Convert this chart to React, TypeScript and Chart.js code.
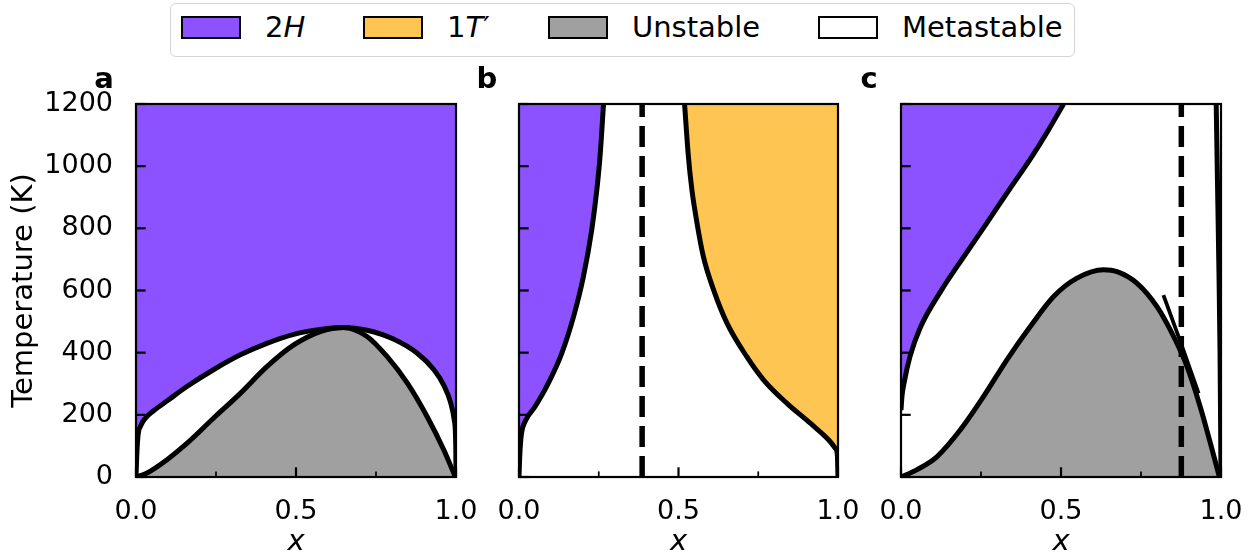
import React, { useEffect, useRef } from 'react';
import { Chart, registerables } from 'chart.js';

Chart.register(...registerables);

const FONT = 'DejaVu Sans';
const PURPLE = '#8c52ff';
const YELLOW = '#fec552';
const GREY = '#a0a0a0';

// ---------- data ----------
const yMin = 0;
const yMax = 1200;
const yTicks = [0, 200, 400, 600, 800, 1000, 1200];
const yTickLabels = ['0', '200', '400', '600', '800', '1000', '1200'];
const xMajorTicks = [0, 0.5, 1];
const xMinorTicks = [0.25, 0.75];
const xTickLabels = ['0.0', '0.5', '1.0'];

// panel a
const aBinodalX = [0, 0.002, 0.006, 0.015, 0.03, 0.055, 0.1, 0.159, 0.242, 0.326, 0.409, 0.493, 0.576, 0.649, 0.722, 0.806, 0.879, 0.931, 0.962, 0.983, 0.995, 0.9993, 1.0];
const aBinodalT = [0, 60, 130, 165, 190, 213, 247, 291, 345, 393, 430, 459, 475, 481, 472, 443, 398, 345, 295, 240, 180, 100, 0];
const aSpinodalX = [0, 0.033, 0.096, 0.159, 0.242, 0.326, 0.409, 0.493, 0.576, 0.649, 0.722, 0.785, 0.848, 0.91, 0.962, 0.998];
const aSpinodalT = [0, 12, 55, 108, 189, 269, 355, 425, 468, 481, 452, 387, 302, 194, 87, 0];

// panel b
const bLeftX = [0, 0.002, 0.004, 0.008, 0.022, 0.05, 0.092, 0.134, 0.171, 0.202, 0.228, 0.244, 0.254, 0.265];
const bLeftT = [0, 60, 98, 141, 184, 226, 302, 398, 516, 645, 795, 924, 1031, 1200];
const bRightX = [0.519, 0.531, 0.542, 0.558, 0.578, 0.61, 0.652, 0.714, 0.767, 0.84, 0.913, 0.971, 0.992, 0.998, 1.0];
const bRightT = [1200, 1031, 924, 817, 709, 602, 495, 387, 312, 237, 173, 119, 92, 70, 0];
const bDashX = 0.386;

// panel c
const cUpperX = [0, 0.003, 0.01, 0.028, 0.06, 0.127, 0.197, 0.268, 0.338, 0.409, 0.46, 0.508];
const cUpperT = [215, 260, 305, 387, 480, 602, 710, 817, 924, 1031, 1115, 1200];
const cSpinodalX = [0, 0.049, 0.112, 0.185, 0.258, 0.331, 0.404, 0.477, 0.55, 0.633, 0.675, 0.737, 0.8, 0.852, 0.894, 0.935, 0.967, 0.995];
const cSpinodalT = [0, 23, 65, 151, 259, 377, 484, 581, 640, 667, 661, 624, 548, 452, 355, 226, 108, 0];
const cRightX = [0.985, 0.989, 0.993, 0.997, 1.0];
const cRightT = [1200, 950, 700, 400, 0];
const cSegmentX = [0.82, 0.875, 0.93];
const cSegmentT = [585, 430, 269];
const cDashX = 0.876;

const legendLabels = ['2H', '1T′', 'Unstable', 'Metastable'];
const legendColors = [PURPLE, YELLOW, GREY, '#ffffff'];

// ---------- helpers ----------
const pts = (xs: number[], ys: number[]) => xs.map((x, i) => ({ x, y: ys[i] }));
const vline = (x: number) => [{ x, y: yMin }, { x, y: yMax }];

const curve = (data: any[], extra: any = {}) => ({
  data,
  showLine: true,
  pointRadius: 0,
  borderColor: '#000',
  borderWidth: 5,
  fill: false,
  cubicInterpolationMode: 'monotone',
  clip: 0,
  ...extra,
});

const dashed = (x: number) => ({
  data: vline(x),
  showLine: true,
  pointRadius: 0,
  borderColor: '#000',
  borderWidth: 5.5,
  borderDash: [21, 9],
  borderCapStyle: 'butt',
  fill: false,
  tension: 0,
  clip: 0,
});

const H = 554;
const PLOT_TOP = 104;
const PLOT_BOTTOM = 477;

const panels = [
  {
    letter: 'a',
    canvasLeft: 0,
    canvasWidth: 478,
    plotLeft: 136,
    plotRight: 456,
    showY: true,
    datasets: [
      curve(pts(aBinodalX, aBinodalT), { fill: 'end', backgroundColor: PURPLE }),
      curve(pts(aSpinodalX, aSpinodalT), { fill: 'origin', backgroundColor: GREY }),
    ],
  },
  {
    letter: 'b',
    canvasLeft: 478,
    canvasWidth: 382,
    plotLeft: 519,
    plotRight: 838,
    showY: false,
    datasets: [
      curve(pts(bLeftX, bLeftT), { fill: 'end', backgroundColor: PURPLE }),
      curve(pts(bRightX, bRightT), { fill: 'end', backgroundColor: YELLOW }),
      dashed(bDashX),
    ],
  },
  {
    letter: 'c',
    canvasLeft: 860,
    canvasWidth: 397,
    plotLeft: 901,
    plotRight: 1221,
    showY: false,
    datasets: [
      curve(pts(cUpperX, cUpperT), { fill: 'end', backgroundColor: PURPLE }),
      curve(pts(cSpinodalX, cSpinodalT), { fill: 'origin', backgroundColor: GREY }),
      curve(pts(cRightX, cRightT)),
      curve(pts(cSegmentX, cSegmentT), { borderWidth: 3.8 }),
      dashed(cDashX),
    ],
  },
];

const decorPlugin = (letter: string) => ({
  id: 'decor' + letter,
  afterDatasetsDraw(chart: any) {
    const { ctx, chartArea } = chart;
    const { left, right, top, bottom } = chartArea;
    const xs = chart.scales.x;
    const ys = chart.scales.y;
    ctx.save();
    ctx.strokeStyle = '#000';
    ctx.lineCap = 'butt';
    ctx.lineWidth = 2.2;
    xMajorTicks.forEach((v) => {
      const px = xs.getPixelForValue(v);
      ctx.beginPath();
      ctx.moveTo(px, bottom);
      ctx.lineTo(px, bottom - 9.7);
      ctx.stroke();
    });
    ctx.lineWidth = 1.7;
    xMinorTicks.forEach((v) => {
      const px = xs.getPixelForValue(v);
      ctx.beginPath();
      ctx.moveTo(px, bottom);
      ctx.lineTo(px, bottom - 5.6);
      ctx.stroke();
    });
    ctx.lineWidth = 2.2;
    yTicks.forEach((v) => {
      const py = ys.getPixelForValue(v);
      ctx.beginPath();
      ctx.moveTo(left, py);
      ctx.lineTo(left + 9.7, py);
      ctx.stroke();
    });
    ctx.lineWidth = 2.2;
    ctx.strokeRect(left, top, right - left, bottom - top);
    ctx.fillStyle = '#000';
    ctx.font = `bold 29px "${FONT}"`;
    ctx.textAlign = 'center';
    ctx.textBaseline = 'alphabetic';
    ctx.fillText(letter, left - 32, 88);
    ctx.restore();
  },
});

function Panel({ cfg }: { cfg: any }) {
  const ref = useRef<HTMLCanvasElement>(null);
  useEffect(() => {
    const yAxisWidth = cfg.plotLeft - cfg.canvasLeft;
    const padRight = cfg.canvasLeft + cfg.canvasWidth - cfg.plotRight;
    const chart = new Chart(ref.current as HTMLCanvasElement, {
      type: 'scatter',
      data: { datasets: cfg.datasets },
      options: {
        animation: false,
        responsive: false,
        devicePixelRatio: 1,
        events: [],
        layout: { autoPadding: false, padding: { left: 0, right: padRight, top: PLOT_TOP, bottom: 0 } },
        plugins: {
          legend: { display: false },
          tooltip: { enabled: false },
          filler: { drawTime: 'beforeDatasetsDraw' },
        },
        scales: {
          x: {
            type: 'linear',
            min: 0,
            max: 1,
            afterFit: (s: any) => {
              s.height = H - PLOT_BOTTOM;
            },
            afterBuildTicks: (s: any) => {
              s.ticks = xMajorTicks.map((value) => ({ value }));
            },
            grid: { display: false, drawTicks: false, tickLength: 0 },
            border: { display: false },
            ticks: {
              callback: (_v: any, i: number) => xTickLabels[i],
              font: { family: FONT, size: 27, lineHeight: 69 / 27 },
              color: '#000',
              padding: 0,
              maxRotation: 0,
              autoSkip: false,
            },
            title: {
              display: true,
              text: 'x',
              color: '#000',
              font: { family: FONT, size: 29, style: 'italic', lineHeight: 0.8 },
              padding: { top: 0, bottom: 0 },
            },
          },
          y: {
            type: 'linear',
            min: yMin,
            max: yMax,
            afterFit: (s: any) => {
              s.width = yAxisWidth;
            },
            afterBuildTicks: (s: any) => {
              s.ticks = yTicks.map((value) => ({ value }));
            },
            grid: { display: false, drawTicks: false, tickLength: 0 },
            border: { display: false },
            ticks: {
              display: cfg.showY,
              callback: (_v: any, i: number) => yTickLabels[i],
              font: { family: FONT, size: 27, lineHeight: 1 },
              color: '#000',
              padding: 23,
            },
            title: {
              display: cfg.showY,
              text: 'Temperature (K)',
              color: '#000',
              font: { family: FONT, size: 29 },
              padding: { top: 7, bottom: 0 },
            },
          },
        },
      } as any,
      plugins: [decorPlugin(cfg.letter)],
    } as any);
    return () => chart.destroy();
  }, []);
  return (
    <canvas
      ref={ref}
      width={cfg.canvasWidth}
      height={H}
      style={{ position: 'absolute', left: cfg.canvasLeft, top: 0, width: cfg.canvasWidth, height: H }}
    />
  );
}

function renderLabel(s: string) {
  const m = s.match(/^(\d)([A-Z])(.*)$/);
  if (!m) return s;
  return (
    <>
      {m[1]}
      <i>{m[2]}</i>
      {m[3]}
    </>
  );
}

const patchLefts = [181, 363, 548, 818];
const textLefts = [265, 447, 632, 902];

export default function App() {
  return (
    <div
      style={{
        position: 'fixed',
        left: 0,
        top: 0,
        width: 1257,
        height: H,
        background: '#fff',
        overflow: 'hidden',
        fontFamily: FONT,
      }}
    >
      {panels.map((p) => (
        <Panel key={p.letter} cfg={p} />
      ))}
      <div
        style={{
          position: 'absolute',
          left: 170,
          top: 3,
          width: 905,
          height: 54,
          border: '1.5px solid #d4d4d4',
          borderRadius: 6,
          boxSizing: 'border-box',
          background: '#fff',
        }}
      />
      {legendLabels.map((lab, i) => (
        <React.Fragment key={lab}>
          <div
            style={{
              position: 'absolute',
              left: patchLefts[i],
              top: 16,
              width: 60,
              height: 23,
              background: legendColors[i],
              border: '2px solid #000',
              boxSizing: 'border-box',
            }}
          />
          <div
            style={{
              position: 'absolute',
              left: textLefts[i],
              top: 12.5,
              fontSize: 29,
              lineHeight: '29px',
              color: '#000',
              whiteSpace: 'nowrap',
            }}
          >
            {renderLabel(lab)}
          </div>
        </React.Fragment>
      ))}
    </div>
  );
}
